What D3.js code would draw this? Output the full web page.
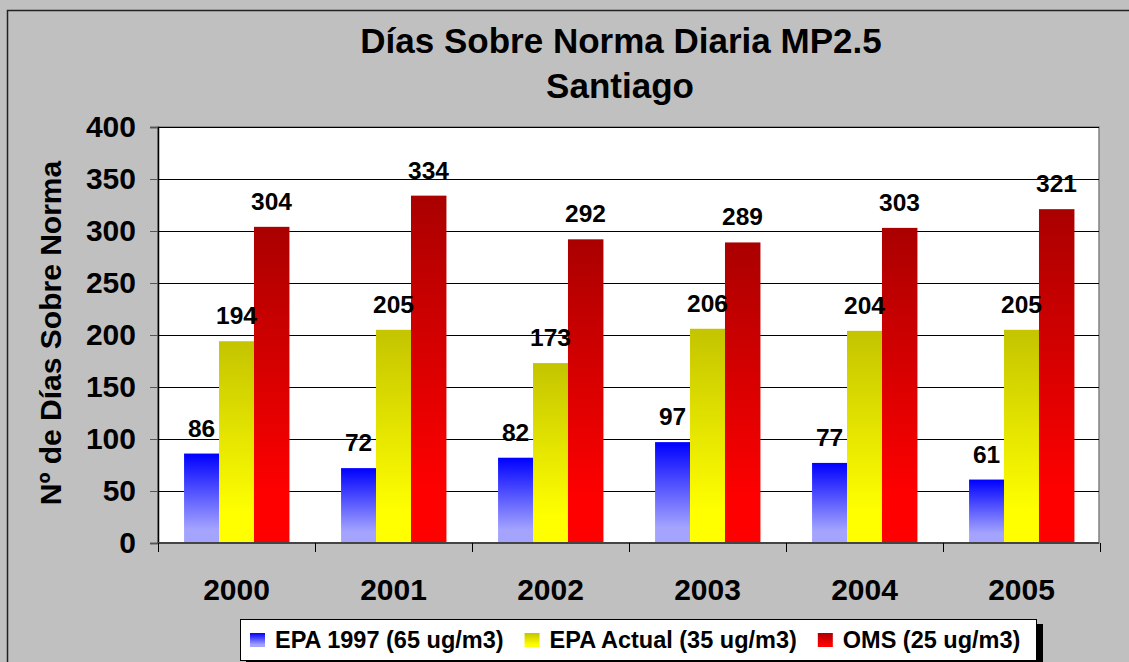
<!DOCTYPE html>
<html lang="es">
<head>
<meta charset="utf-8">
<title>Días Sobre Norma Diaria MP2.5</title>
<script src="https://cdn.jsdelivr.net/npm/d3@7"></script>
<style>
  body { margin: 0; background: #c0c0c0; }
  text { font-family: Arial, "Liberation Sans", sans-serif; font-weight: bold; fill: #000; }
</style>
</head>
<body>
<script>
// data
var years = ["2000", "2001", "2002", "2003", "2004", "2005"];
var seriesNames = ["EPA 1997 (65 ug/m3)", "EPA Actual (35 ug/m3)", "OMS (25 ug/m3)"];
var epa1997 = [86, 72, 82, 97, 77, 61];
var epaActual = [194, 205, 173, 206, 204, 205];
var oms = [304, 334, 292, 289, 303, 321];
var yTicks = [0, 50, 100, 150, 200, 250, 300, 350, 400];
var titleLines = ["Días Sobre Norma Diaria MP2.5", "Santiago"];
var yTitle = "Nº de Días Sobre Norma";

var w = 1129, h = 662;
var plot = {left: 158, top: 127, right: 1099, bottom: 543};

var svg = d3.select("body").append("svg")
    .attr("width", w).attr("height", h);

// gradients: top colour -> bottom colour
var grads = [
    {id: "gBlue", top: "#0000ff", bottom: "#a4a4ff"},
    {id: "gYellow", top: "#c4c400", bottom: "#ffff00"},
    {id: "gRed", top: "#aa0000", bottom: "#ff0000"}
];
var defs = svg.append("defs");
grads.forEach(function(g) {
    var lg = defs.append("linearGradient").attr("id", g.id)
        .attr("x1", 0).attr("y1", 0).attr("x2", 0).attr("y2", 1);
    lg.append("stop").attr("offset", "0%").attr("stop-color", g.top);
    lg.append("stop").attr("offset", "85%").attr("stop-color", g.bottom);
    lg.append("stop").attr("offset", "100%").attr("stop-color", g.bottom);
});

// chart area border
svg.append("rect").attr("x", 7.5).attr("y", 10.5)
    .attr("width", 1140).attr("height", 700)
    .attr("fill", "#c0c0c0").attr("stroke", "#222").attr("stroke-width", 1.5);

// plot area
svg.append("rect").attr("x", plot.left).attr("y", plot.top)
    .attr("width", plot.right - plot.left).attr("height", plot.bottom - plot.top)
    .attr("fill", "#fff").attr("stroke", "#808080").attr("stroke-width", 1.5);

// scales
var x0 = d3.scaleBand().domain(years).range([plot.left, plot.right + 1]).padding(0);
var bw = x0.bandwidth();
var x1 = d3.scaleBand().domain(d3.range(3)).range([bw * 0.166, bw * 0.834]).padding(0);
var y = d3.scaleLinear().domain([0, 400]).range([plot.bottom, plot.top]);

// gridlines
svg.append("g").selectAll("line")
    .data(yTicks.filter(function(d) { return d > 0; }))
    .enter().append("line")
    .attr("x1", plot.left).attr("x2", plot.right)
    .attr("y1", function(d) { return Math.round(y(d)) + 0.5; })
    .attr("y2", function(d) { return Math.round(y(d)) + 0.5; })
    .attr("stroke", "#000").attr("stroke-width", 1);

// bars
var allSeries = [epa1997, epaActual, oms];
var groups = svg.append("g").selectAll("g")
    .data(years).enter().append("g")
    .attr("transform", function(d) { return "translate(" + x0(d) + ",0)"; });

groups.selectAll("rect")
    .data(function(d, i) {
        return allSeries.map(function(s, k) { return {k: k, v: s[i]}; });
    })
    .enter().append("rect")
    .attr("x", function(d) { return x1(d.k); })
    .attr("width", x1.bandwidth() + 0.5)
    .attr("y", function(d) { return y(d.v); })
    .attr("height", function(d) { return plot.bottom - y(d.v); })
    .attr("fill", function(d) { return "url(#" + grads[d.k].id + ")"; });

groups.selectAll("text.val")
    .data(function(d, i) {
        return allSeries.map(function(s, k) { return {k: k, v: s[i]}; });
    })
    .enter().append("text").attr("class", "val")
    .attr("x", function(d) { return x1(d.k) + x1.bandwidth() / 2; })
    .attr("y", function(d) { return y(d.v) - 17; })
    .attr("text-anchor", "middle")
    .style("font-size", "24.5px")
    .text(function(d) { return d.v; });

// y axis
var yAxis = d3.axisLeft(y).tickValues(yTicks).tickSize(8).tickPadding(14);
var yg = svg.append("g").attr("transform", "translate(" + plot.left + ",0)").call(yAxis);
yg.select(".domain").attr("stroke", "#000").attr("stroke-width", 1.5);
yg.selectAll(".tick line").attr("stroke", "#555");
yg.selectAll(".tick text").style("font-size", "30px")
    .style("font-family", "Arial, 'Liberation Sans', sans-serif").attr("font-weight", "bold")
    .attr("fill", "#000");

// x axis with ticks between categories
var xg = svg.append("g").attr("transform", "translate(0," + plot.bottom + ")");
xg.append("line").attr("x1", plot.left).attr("x2", plot.right)
    .attr("stroke", "#444").attr("stroke-width", 2);
xg.selectAll("line.tk").data(years.concat(["end"])).enter().append("line")
    .attr("class", "tk")
    .attr("x1", function(d, i) { return Math.round(plot.left + i * bw) + 0.5; })
    .attr("x2", function(d, i) { return Math.round(plot.left + i * bw) + 0.5; })
    .attr("y1", 0).attr("y2", 9)
    .attr("stroke", "#000");
xg.selectAll("text").data(years).enter().append("text")
    .attr("x", function(d) { return x0(d) + bw / 2; })
    .attr("y", 57)
    .attr("text-anchor", "middle")
    .style("font-size", "30px")
    .text(function(d) { return d; });

// titles
svg.append("text").attr("x", 621).attr("y", 53).attr("text-anchor", "middle")
    .style("font-size", "35px").text(titleLines[0]);
svg.append("text").attr("x", 620).attr("y", 98).attr("text-anchor", "middle")
    .style("font-size", "35px").text(titleLines[1]);
svg.append("text").attr("transform", "translate(61,333) rotate(-90)")
    .attr("text-anchor", "middle")
    .style("font-size", "30px").text(yTitle);

// legend
var lg = svg.append("g");
lg.append("rect").attr("x", 246).attr("y", 624).attr("width", 797).attr("height", 42).attr("fill", "#000");
lg.append("rect").attr("x", 240.5).attr("y", 619.5).attr("width", 796).attr("height", 41)
    .attr("fill", "#fff").attr("stroke", "#000").attr("stroke-width", 1);
var lx = 250;
seriesNames.forEach(function(name, k) {
    lg.append("rect").attr("x", lx).attr("y", 633).attr("width", 15).attr("height", 14)
        .attr("fill", "url(#" + grads[k].id + ")");
    var t = lg.append("text").attr("x", lx + 25).attr("y", 648)
        .style("font-size", "23.5px").text(name);
    lx = lx + 25 + t.node().getComputedTextLength() + 21;
});
</script>
</body>
</html>
